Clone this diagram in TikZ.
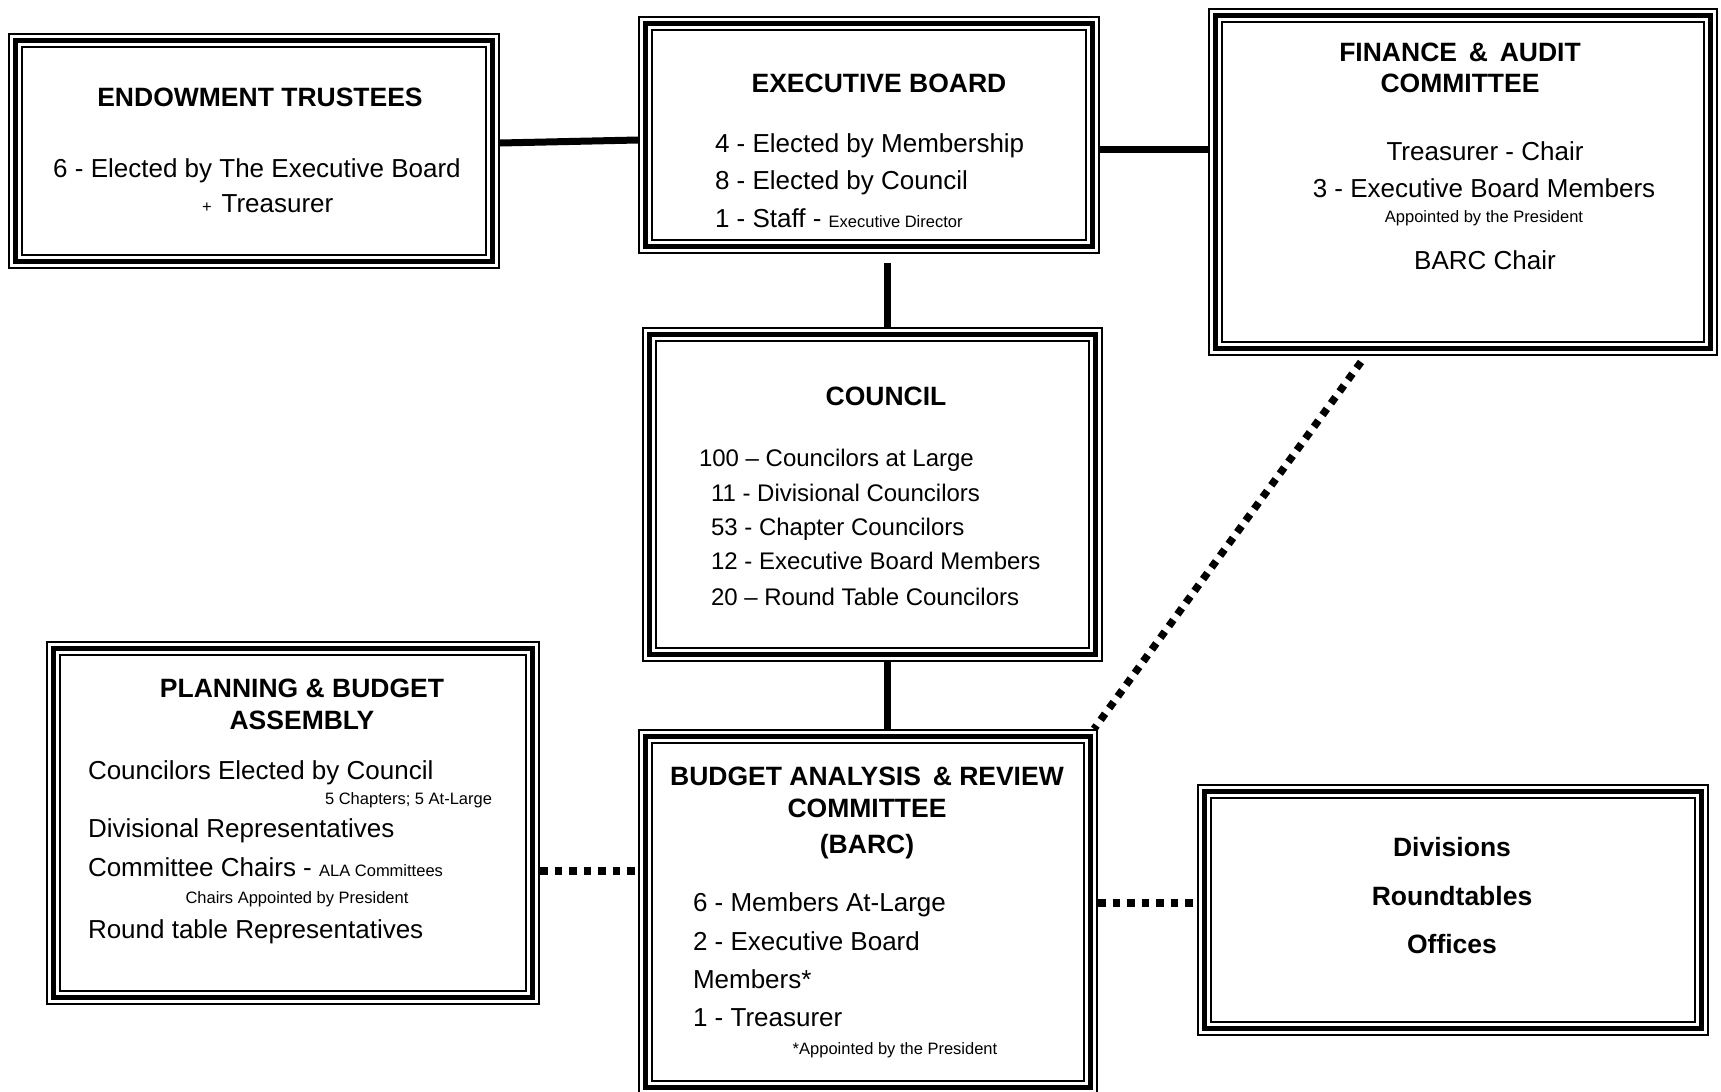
\documentclass[tikz,border=0pt]{standalone}
\usepackage{fontspec}
\setmainfont{Liberation Sans}
\begin{document}
\begin{tikzpicture}[x=1pt,y=-1pt,
  frame/.style={draw=black, line width=15pt, inner sep=0pt, outer sep=7.5pt, rectangle,
    postaction={draw=white, line width=11pt},
    postaction={draw=black, line width=5pt}},
  txt/.style={inner sep=0pt, outer sep=0pt, font=\fontsize{26}{31}\selectfont},
  ctxt/.style={inner sep=0pt, outer sep=0pt, font=\fontsize{24}{29}\selectfont},
  ttl/.style={inner sep=0pt, outer sep=0pt, font=\fontsize{26.5}{31}\selectfont\bfseries},
  note/.style={inner sep=0pt, outer sep=0pt, font=\fontsize{16.5}{19}\selectfont},
  conn/.style={line width=7pt},
  dotconn/.style={line width=7.5pt, dash pattern=on 7.5pt off 7pt}]
\newcommand{\sm}[1]{{\fontsize{16.5}{19}\selectfont #1}}
\useasboundingbox[fill=white] (0,0) rectangle (1721,1092);

% boxes
\node[frame, minimum width=477pt, minimum height=221pt] (et) at (254,151) {};
\node[frame, minimum width=447pt, minimum height=223pt] (eb) at (869,135) {};
\node[frame, minimum width=495pt, minimum height=333pt] (fa) at (1463,182) {};
\node[frame, minimum width=446pt, minimum height=320pt] (cl) at (872.5,494.5) {};
\node[frame, minimum width=479pt, minimum height=349pt] (pb) at (293,823) {};
\node[frame, minimum width=445pt, minimum height=351pt] (ba) at (868,912) {};
\node[frame, minimum width=497pt, minimum height=237pt] (dv) at (1453,910) {};

% connectors
\draw[conn] ([yshift=8pt]et.east) -- ([yshift=-5pt]eb.west);
\draw[conn] ([yshift=-14pt]eb.east) -- ([yshift=33pt]fa.west);
\draw[conn] ([xshift=18pt,yshift=-9pt]eb.south) -- ([xshift=14.5pt]cl.north);
\draw[conn] ([xshift=14.5pt]cl.south) -- ([xshift=19pt]ba.north);
\draw[dotconn] ([xshift=-102pt,yshift=-6pt]fa.south) -- ([xshift=-4pt]ba.north east);
\draw[dotconn] ([yshift=-48pt]pb.east) -- ([yshift=41pt]ba.west);
\draw[dotconn] ([yshift=9pt]ba.east) -- ([yshift=7pt]dv.west);

% Endowment trustees
\node[ttl, anchor=base] (et1) at (260,106) {ENDOWMENT TRUSTEES};
\node[txt, anchor=base] (et2) at (257,177) {6 - Elected by The Executive Board};
\node[txt, anchor=base west] (et3) at (202,212) {\sm{+}\hspace{10pt}Treasurer};

% Executive board
\node[ttl, anchor=base] (eb1) at (879,92) {EXECUTIVE BOARD};
\node[txt, anchor=base west] (eb2) at (715,152) {4 - Elected by Membership};
\node[txt, anchor=base west] (eb3) at (715,189) {8 - Elected by Council};
\node[txt, anchor=base west] (eb4) at (715,227) {1 - Staff - \sm{Executive Director}};

% Finance & audit
\node[ttl, anchor=base] (fa1) at (1460,61) {FINANCE \,\&\, AUDIT};
\node[ttl, anchor=base] (fa2) at (1460,92) {COMMITTEE};
\node[txt, anchor=base] (fa3) at (1485,160) {Treasurer - Chair};
\node[txt, anchor=base] (fa4) at (1484,197) {3 - Executive Board Members};
\node[note, anchor=base] (fa5) at (1484,222) {Appointed by the President};
\node[txt, anchor=base] (fa6) at (1485,269) {BARC Chair};

% Council
\node[ttl, anchor=base] (cl1) at (886,405) {COUNCIL};
\node[ctxt, anchor=base west] (cl2) at (699,466) {100 -- Councilors at Large};
\node[ctxt, anchor=base west] (cl3) at (711,501) {11 - Divisional Councilors};
\node[ctxt, anchor=base west] (cl4) at (711,535) {53 - Chapter Councilors};
\node[ctxt, anchor=base west] (cl5) at (711,569) {12 - Executive Board Members};
\node[ctxt, anchor=base west] (cl6) at (711,605) {20 -- Round Table Councilors};

% Planning & budget assembly
\node[ttl, anchor=base] (pb1) at (302,697) {PLANNING \& BUDGET};
\node[ttl, anchor=base] (pb2) at (302,729) {ASSEMBLY};
\node[txt, anchor=base west] (pb3) at (88,779) {Councilors Elected by Council};
\node[note, anchor=base east] (pb4) at (492,804) {5 Chapters; 5 At-Large};
\node[txt, anchor=base west] (pb5) at (88,837) {Divisional Representatives};
\node[txt, anchor=base west] (pb6) at (88,876) {Committee Chairs - \sm{ALA Committees}};
\node[note, anchor=base] (pb7) at (297,903) {Chairs Appointed by President};
\node[txt, anchor=base west] (pb8) at (88,938) {Round table Representatives};

% BARC
\node[ttl, anchor=base] (ba1) at (867,785) {BUDGET ANALYSIS \,\& REVIEW};
\node[ttl, anchor=base] (ba2) at (867,817) {COMMITTEE};
\node[ttl, anchor=base] (ba3) at (867,853) {(BARC)};
\node[txt, anchor=base west] (ba4) at (693,911) {6 - Members At-Large};
\node[txt, anchor=base west] (ba5) at (693,950) {2 - Executive Board};
\node[txt, anchor=base west] (ba6) at (693,988) {Members*};
\node[txt, anchor=base west] (ba7) at (693,1026) {1 - Treasurer};
\node[note, anchor=base] (ba8) at (895,1054) {*Appointed by the President};

% Divisions
\node[ttl, anchor=base] (dv1) at (1452,856) {Divisions};
\node[ttl, anchor=base] (dv2) at (1452,905) {Roundtables};
\node[ttl, anchor=base] (dv3) at (1452,953) {Offices};
\end{tikzpicture}
\end{document}
